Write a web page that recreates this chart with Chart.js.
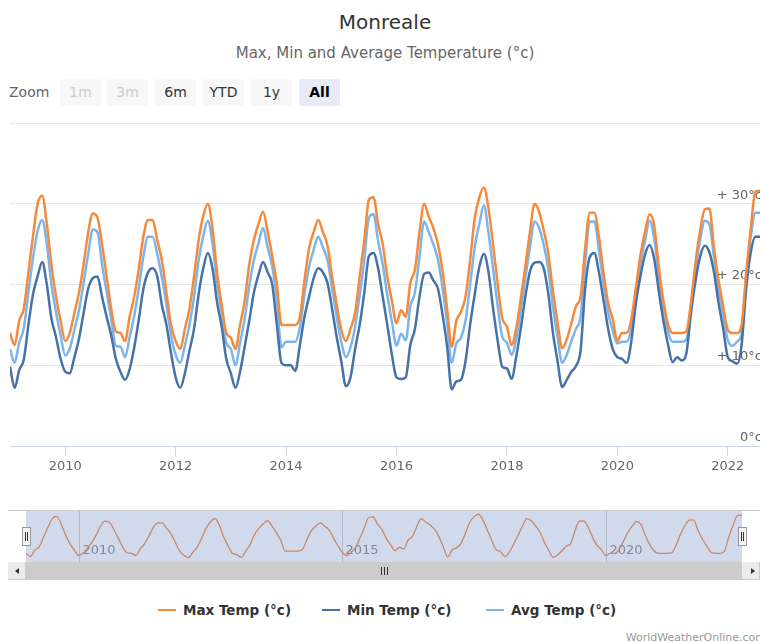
<!DOCTYPE html>
<html>
<head>
<meta charset="utf-8">
<script src="https://cdn.jsdelivr.net/npm/chart.js@4.4.1/dist/chart.umd.min.js"></script>
<style>
  body { margin: 0; width: 760px; height: 643px; overflow: hidden; background: #fff; position: relative; font-family: 'DejaVu Sans', sans-serif; }
  .abs { position: absolute; }
  #title { left: 0; width: 770px; top: 10px; text-align: center; font-size: 20px; color: #333; }
  #subtitle { left: 0; width: 770px; top: 44px; text-align: center; font-size: 15px; color: #666; }
  #zoomLabel { left: 9px; top: 84px; font-size: 14px; color: #666; }
  .btn { top: 79px; width: 41px; height: 27px; line-height: 27px; text-align: center; font-size: 14px; color: #333; background: #f7f7f7; border-radius: 2px; }
  .btn.off { color: #cccccc; }
  .btn.on { background: #e6ebf5; font-weight: bold; color: #000; }
  #mainChart { left: 0; top: 0; }
  #navLine { left: 8px; top: 510px; width: 752px; height: 1px; background: #cccccc; }
  #navChart { left: 26px; top: 511px; }
  #navMask { left: 26px; top: 511px; width: 716px; height: 51px; background: rgba(102, 133, 194, 0.3); }
  .handle { top: 527px; width: 7px; height: 17px; background: #f2f2f2; border: 1px solid #999; }
  .handle::before, .handle::after { content: ''; position: absolute; top: 4px; width: 1px; height: 9px; background: #333; }
  .handle::before { left: 2px; }
  .handle::after { left: 4px; }
  #track { left: 8px; top: 562px; width: 752px; height: 18px; background: #f2f2f2; }
  #bar { left: 26px; top: 562px; width: 716px; height: 18px; background: #cccccc; }
  .sbtn { top: 562px; width: 17px; height: 17px; background: #ebebeb; border: 1px solid #cccccc; border-width: 0 1px 1px 0; }
  .arrowL, .arrowR { top: 568px; width: 0; height: 0; border-top: 3px solid transparent; border-bottom: 3px solid transparent; }
  .arrowL { left: 15px; border-right: 4px solid #333; }
  .arrowR { left: 751px; border-left: 4px solid #333; }
  .grip { top: 567px; width: 1px; height: 8px; background: #333; }
  .leg { top: 602px; font-size: 13.5px; font-weight: bold; color: #333; white-space: nowrap; }
  .leg i { display: inline-block; width: 18px; height: 2px; vertical-align: middle; margin-right: 7px; position: relative; top: -1px; }
  #credits { right: -6px; top: 631px; font-size: 11px; color: #999; }
</style>
</head>
<body>
<div id="title" class="abs">Monreale</div>
<div id="subtitle" class="abs">Max, Min and Average Temperature (°c)</div>
<div id="zoomLabel" class="abs">Zoom</div>
<div class="abs btn off" style="left:60px">1m</div>
<div class="abs btn off" style="left:107px">3m</div>
<div class="abs btn" style="left:155px">6m</div>
<div class="abs btn" style="left:203px">YTD</div>
<div class="abs btn" style="left:251px">1y</div>
<div class="abs btn on" style="left:299px">All</div>

<canvas id="mainChart" class="abs" width="760" height="490"></canvas>

<div id="navLine" class="abs"></div>
<canvas id="navChart" class="abs" width="716" height="51"></canvas>
<div id="navMask" class="abs"></div>
<div class="abs handle" style="left:22px"></div>
<div class="abs handle" style="left:738px"></div>
<div id="track" class="abs"></div>
<div id="bar" class="abs"></div>
<div class="abs sbtn" style="left:8px"></div>
<div class="abs sbtn" style="left:742px"></div>
<div class="abs arrowL"></div>
<div class="abs arrowR"></div>
<div class="abs grip" style="left:381px"></div>
<div class="abs grip" style="left:384px"></div>
<div class="abs grip" style="left:387px"></div>

<div id="legend"></div>
<div id="credits" class="abs">WorldWeatherOnline.com</div>

<script>
// monthly values, Jan 2009 .. Aug 2022
const startYear = 2009;

const maxTemp = [
	14, 12.5, 15.5, 17, 21.5, 26, 30, 31, 27.5, 22.5, 18.5, 15.5,
	13, 14, 16.5, 19, 22.5, 26.5, 28.8, 28.3, 25, 21, 17, 14.2,
	14, 13, 16, 18.5, 22, 26, 28, 28, 25.5, 23, 19, 15,
	13, 12, 14.5, 17, 21, 25.5, 28.5, 30, 27, 21.5, 17.5, 14,
	13.4, 12, 15, 18, 22.5, 25.5, 27.5, 29, 26.5, 23.5, 20, 15,
	15, 15, 15, 16, 20.5, 24.5, 26.5, 28, 26.5, 24.8, 21, 17.5,
	14.4, 13, 14.5, 16.5, 21, 25.5, 30.5, 30.8, 27.5, 25, 21, 18,
	15.2, 16.8, 16, 20.2, 21.8, 26.5, 30, 28.4, 27, 25, 21.7, 17,
	12.3, 15.5, 16.6, 18.5, 23, 28.2, 30.8, 32, 29.4, 24.9, 20, 15.8,
	14.8, 12.5, 14.5, 18.2, 22.2, 26.5, 30, 29, 26.7, 23.8, 19.2, 15.3,
	12.1, 13.2, 15.2, 17.3, 18.5, 24.5, 28.9, 28.9, 25.9, 21.4, 17.7, 15.7,
	13, 14, 14, 15.6, 19.5, 23.6, 26.5, 28.7, 27.3, 22.2, 18, 15.1,
	14, 14, 14, 14.2, 17.8, 22.8, 26.7, 29.3, 29.4, 24.5, 20.5, 17.3,
	14.4, 14, 14, 15, 21.5, 27, 31.5, 31.6,
];

const minTemp = [
	9.8, 7.2, 9.4, 10.7, 15, 18.8, 21, 22.8, 20, 15.8, 13.5, 10.8,
	9.2, 9, 11, 13.3, 16.5, 19.5, 20.8, 21, 18.5, 16, 13.7, 10.8,
	9.2, 8.2, 9.5, 12.2, 15.7, 19.5, 21.5, 22, 21, 17.5, 15, 11.5,
	8.5, 7.2, 9, 11.8, 14.5, 18.8, 22, 23.9, 22, 17.8, 14.8, 10.8,
	9, 7.2, 9.2, 12.3, 15.5, 19, 21.2, 22.8, 21.5, 20, 15, 10.3,
	10, 10, 9.3, 12.5, 16, 18.5, 20.8, 22, 21.5, 20.2, 17, 13.5,
	10.5, 7.4, 8.5, 12, 15, 19, 23.5, 23.9, 22, 18.5, 15, 11.3,
	8.5, 8.3, 8.5, 12.5, 14.5, 18.5, 21.3, 21.5, 20.5, 19.5, 16.3, 12.3,
	7, 8, 8.2, 10.5, 15, 18.8, 22.2, 23.8, 21.5, 17, 13, 9.8,
	9.6, 8.3, 11, 14.5, 18.5, 21.6, 22.7, 22.8, 22, 18.8, 14, 10.5,
	7.3, 8.2, 9.2, 9.9, 11.8, 19.5, 23.4, 23.9, 21.5, 18, 14.5, 12,
	11, 10.8, 10.3, 12.8, 17.6, 21, 23.7, 24.9, 23.2, 19.2, 15.5, 12.6,
	10.4, 11, 10.6, 11.5, 16.5, 20.5, 23.5, 24.8, 24, 21.5, 17.7, 14.5,
	11, 10.5, 10.2, 12.5, 19.5, 24, 25.9, 25.9,
];

const avgTemp = [
	12, 10.3, 12.8, 14.6, 19, 23.3, 26.6, 28, 25, 20, 16.6, 13.7,
	11.2, 12.1, 14.4, 16.8, 20.2, 23.8, 26.8, 26.5, 22.5, 19.1, 15.7, 12.4,
	12.3, 11, 13.5, 16.1, 19.6, 23.5, 25.9, 25.9, 23.8, 20.9, 17.5, 13.7,
	11.3, 10.3, 12.4, 15, 18.5, 23, 26, 27.9, 25.1, 20.1, 16.5, 12.8,
	12, 10, 12.8, 15.8, 19.8, 23, 25.1, 27, 24.6, 22.2, 18.1, 12.2,
	12.9, 12.9, 12.9, 14.7, 18.8, 22.2, 24.3, 25.9, 24.6, 23, 19.5, 16,
	12.9, 11, 12.2, 14.8, 18.7, 23, 28.3, 28.7, 25.4, 22.5, 18.7, 15.4,
	12.4, 13.9, 13.1, 17.3, 19, 23.5, 27.8, 26.5, 25, 23.1, 19.6, 15.2,
	10.3, 12.7, 13.4, 15.5, 20, 24.6, 27.5, 29.8, 26.4, 21.9, 17.3, 13.5,
	12.8, 11.3, 13.2, 16.8, 20.8, 24.6, 27.8, 27, 24.9, 21.9, 17.2, 13.5,
	10.3, 11.3, 13, 14.5, 16, 22.6, 27.8, 27.8, 24.2, 20.1, 16.5, 14.3,
	12.7, 12.9, 12.9, 14.5, 18.8, 22.6, 25.4, 27.9, 25.7, 21.1, 17, 14.2,
	12.9, 12.9, 12.9, 13.2, 17.3, 21.9, 25.5, 27.9, 27.5, 23.4, 19.4, 16.2,
	13.1, 12.4, 12.9, 14, 20.7, 25.9, 28.9, 28.9,
];

const seriesNames = ['Max Temp (°c)', 'Min Temp (°c)', 'Avg Temp (°c)'];
const seriesColors = ['#f7893b', '#4572a7', '#7cb5ec'];
const xTicks = [2010, 2012, 2014, 2016, 2018, 2020, 2022];
const yTicks = [0, 10, 20, 30, 40];
const yTickLabels = ['0°c', '+ 10°c', '+ 20°c', '+ 30°c'];
const navTicks = [2010, 2015, 2020];

const xMin = startYear;
const xMax = startYear + (maxTemp.length - 1) / 12;

function toPoints(values) {
	return values.map((v, i) => ({ x: startYear + i / 12, y: v }));
}

const yLabelPlugin = {
	id: 'yLabels',
	beforeDatasetsDraw(chart) {
		const ctx = chart.ctx;
		const y = chart.scales.y;
		ctx.save();
		ctx.font = '13px "DejaVu Sans"';
		ctx.fillStyle = '#666666';
		ctx.textAlign = 'right';
		ctx.textBaseline = 'bottom';
		yTickLabels.forEach((label, i) => {
			ctx.fillText(label, 762, y.getPixelForValue(yTicks[i]) - 2);
		});
		ctx.restore();
	},
};

const mainConfig = {
	type: 'line',
	data: {
		datasets: [maxTemp, minTemp, avgTemp].map((values, i) => ({
			label: seriesNames[i],
			data: toPoints(values),
			borderColor: seriesColors[i],
			backgroundColor: seriesColors[i],
			borderWidth: 2.5,
			pointRadius: 0,
			cubicInterpolationMode: 'monotone',
		})),
	},
	options: {
		responsive: false,
		animation: false,
		devicePixelRatio: 1,
		layout: { padding: { left: 10, right: 0, top: 123, bottom: 0 } },
		plugins: { legend: { display: false }, tooltip: { enabled: false } },
		scales: {
			x: {
				type: 'linear',
				min: xMin,
				max: xMax,
				afterBuildTicks: (axis) => { axis.ticks = xTicks.map((v) => ({ value: v })); },
				afterFit: (axis) => { axis.height = 44; },
				grid: { drawOnChartArea: false, tickLength: 10, color: '#ccd6eb' },
				border: { color: '#ccd6eb', width: 1 },
				ticks: {
					autoSkip: false,
					maxRotation: 0,
					padding: 3,
					color: '#666666',
					font: { family: 'DejaVu Sans', size: 13 },
					callback: (value) => String(value),
				},
			},
			y: {
				position: 'right',
				min: 0,
				max: 40,
				afterBuildTicks: (axis) => { axis.ticks = yTicks.map((v) => ({ value: v })); },
				afterFit: (axis) => { axis.width = 0; },
				grid: { color: '#e6e6e6', drawTicks: false },
				border: { display: false },
				ticks: { display: false },
			},
		},
	},
	plugins: [yLabelPlugin],
};

const navGridPlugin = {
	id: 'navGrid',
	beforeDatasetsDraw(chart) {
		const ctx = chart.ctx;
		const x = chart.scales.x;
		ctx.save();
		ctx.strokeStyle = '#d0d0d0';
		ctx.lineWidth = 1;
		ctx.fillStyle = '#8a8a8a';
		ctx.font = '13px "DejaVu Sans"';
		ctx.textBaseline = 'middle';
		navTicks.forEach((year) => {
			const px = Math.round(x.getPixelForValue(year)) + 0.5;
			ctx.beginPath();
			ctx.moveTo(px, 0);
			ctx.lineTo(px, chart.height);
			ctx.stroke();
			ctx.fillText(String(year), px + 3, 40);
		});
		ctx.restore();
	},
};

const navConfig = {
	type: 'line',
	data: {
		datasets: [{
			data: toPoints(maxTemp),
			borderColor: seriesColors[0],
			borderWidth: 1.3,
			pointRadius: 0,
			cubicInterpolationMode: 'monotone',
		}],
	},
	options: {
		responsive: false,
		animation: false,
		devicePixelRatio: 1,
		layout: { padding: 0 },
		plugins: { legend: { display: false }, tooltip: { enabled: false } },
		scales: {
			x: { type: 'linear', min: xMin, max: xMax, display: false },
			y: { min: 10, max: 33.5, display: false },
		},
	},
	plugins: [navGridPlugin],
};

function renderLegend() {
	const lefts = [158, 322, 486];
	const legend = document.getElementById('legend');
	seriesNames.forEach((name, i) => {
		const item = document.createElement('div');
		item.className = 'abs leg';
		item.style.left = lefts[i] + 'px';
		item.innerHTML = `<i style="background:${seriesColors[i]}"></i>${name}`;
		legend.appendChild(item);
	});
}

new Chart(document.getElementById('mainChart'), mainConfig);
new Chart(document.getElementById('navChart'), navConfig);
renderLegend();
</script>
</body>
</html>
